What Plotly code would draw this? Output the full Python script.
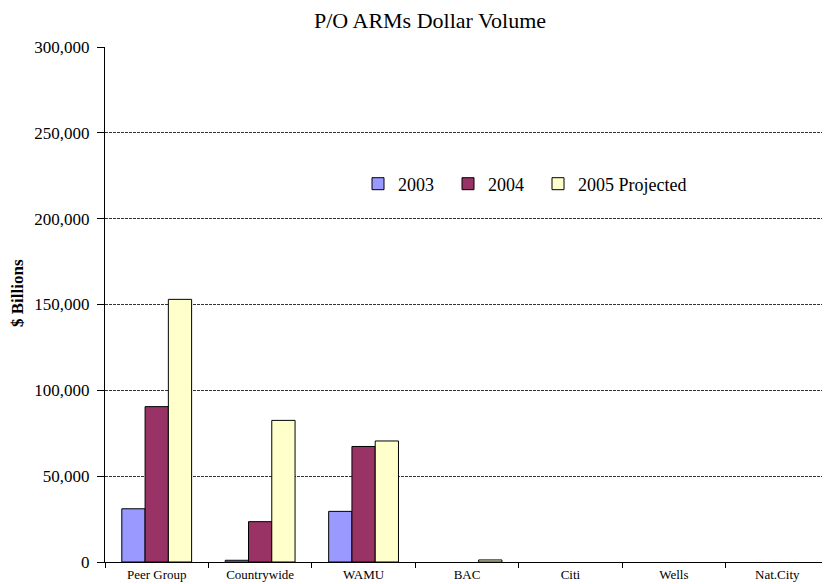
import plotly.graph_objects as go

categories = ["Peer Group", "Countrywide", "WAMU", "BAC", "Citi", "Wells", "Nat.City"]
v2003 = [31000, 1000, 29500, None, None, None, None]
v2004 = [90500, 23500, 67300, None, None, None, None]
v2005 = [153000, 82500, 70500, 1200, None, None, None]
series = [("2003\u00a0\u00a0", v2003, "#9999FF"), ("2004\u00a0\u00a0", v2004, "#993366"),
          ("2005 Projected", v2005, "#FFFFCC")]

fig = go.Figure()
for name, vals, col in series:
    fig.add_trace(go.Bar(x=categories, y=vals, name=name,
                         marker=dict(color=col, line=dict(color="black", width=1))))

# page body has an 8px margin, so figure coords = viewport coords - 8
L, T, R, B = 97, 39, 9, 30
PW = 830 - L - R
PH = 584 - T - B
font = "Liberation Serif, Times New Roman, serif"
fig.update_layout(
    width=830, height=584,
    margin=dict(l=L, r=R, t=T, b=B),
    paper_bgcolor="white", plot_bgcolor="white",
    barmode="group", bargap=0.325, bargroupgap=0,
    font=dict(family=font, color="black"),
    title=dict(text="P/O ARMs Dollar Volume", x=(430 - 8) / 830, xref="container", xanchor="center",
               y=1 - 12 / 584, yref="container", yanchor="middle",
               font=dict(size=22, family=font, color="black")),
    legend=dict(orientation="h", x=(350 - L) / PW, xanchor="left", y=(584 - B - 176) / PH, yanchor="middle",
                bgcolor="rgba(0,0,0,0)", font=dict(size=18, family=font),
                traceorder="normal"),
    showlegend=True,
)
fig.add_annotation(text="<b>$ Billions</b>", textangle=-90, xref="paper", yref="paper",
                   x=(9 - L) / PW, y=(584 - B - 285) / PH, xanchor="center", yanchor="middle",
                   showarrow=False, font=dict(size=17, family=font, color="black"))
fig.update_xaxes(showline=True, linecolor="black", linewidth=1, ticks="outside", tickson="boundaries",
                 ticklen=5, tickcolor="black", tickfont=dict(size=13, family=font), showgrid=False,
                 automargin=False)
fig.update_yaxes(range=[0, 300000], dtick=50000, tickformat=",", showline=True, linecolor="black", linewidth=1,
                 ticks="outside", ticklen=7, tickcolor="black", tickfont=dict(size=17, family=font),
                 ticklabelstandoff=4,
                 showgrid=True, gridcolor="#333333", gridwidth=1, griddash="3px,1px", zeroline=False,
                 automargin=False)
fig.write_html("out.html")
